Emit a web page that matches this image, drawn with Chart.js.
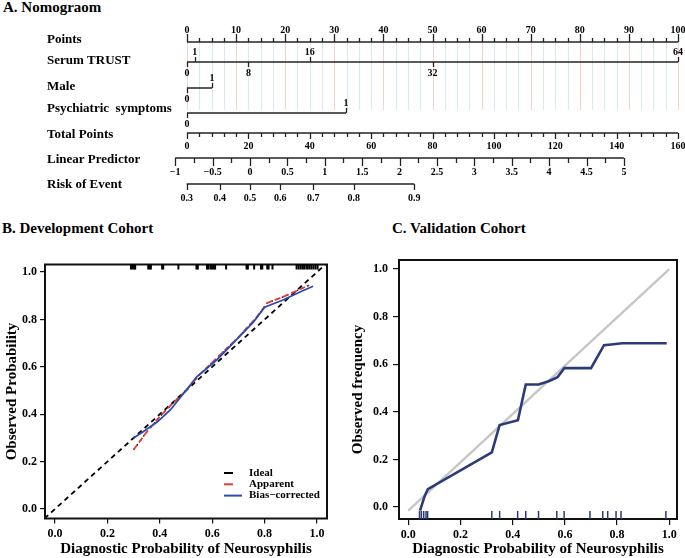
<!DOCTYPE html>
<html>
<head>
<meta charset="utf-8">
<script src="https://cdn.jsdelivr.net/npm/chart.js@4.4.1/dist/chart.umd.min.js"></script>
<style>
  body { margin: 0; background: #fff; width: 685px; height: 558px; position: relative; overflow: hidden; }
  canvas { position: absolute; }
  .ttl { position: absolute; font: bold 15px "Liberation Serif", serif; line-height: 15px; color: #000; white-space: nowrap; }
</style>
</head>
<body>
<div class="ttl" style="left:3px; top:0px;">A. Nomograom</div>
<div class="ttl" style="left:2px; top:221px;">B. Development Cohort</div>
<div class="ttl" style="left:392px; top:221px;">C. Validation Cohort</div>
<canvas id="nomo" width="685" height="210" style="left:0; top:0;"></canvas>
<canvas id="dev" width="340" height="318" style="left:0; top:240px;"></canvas>
<canvas id="val" width="345" height="318" style="left:340px; top:240px;"></canvas>
<script>
const SERIF = '"Liberation Serif", "Times New Roman", serif';
Chart.defaults.font.family = SERIF;
Chart.defaults.color = '#000';

// ---------- A. nomogram scales ----------
const pointsTicks = [0, 10, 20, 30, 40, 50, 60, 70, 80, 90, 100];
const trustValues = [0, 1, 8, 16, 32, 64];
const trustPoints = [0, 1.6, 12.5, 25, 50, 100];
const maleLevels = ['0', '1'];
const malePoints = [0, 5.1];
const psychLevels = ['0', '1'];
const psychPoints = [0, 32.4];
const totalTicks = [0, 20, 40, 60, 80, 100, 120, 140, 160];
const lpTicks = [-1, -0.5, 0, 0.5, 1, 1.5, 2, 2.5, 3, 3.5, 4, 4.5, 5];
const riskTicks = [0.3, 0.4, 0.5, 0.6, 0.7, 0.8, 0.9];
const lpZero = 12.83;   // points where linear predictor = 0
const lpSlope = 15.23;  // points per unit of linear predictor

// ---------- B. development cohort ----------
const devTicks = [0, 0.2, 0.4, 0.6, 0.8, 1.0];
const idealX = [-0.04, 1.04];
const apparentX = [0.30, 0.35, 0.40, 0.45, 0.50, 0.55, 0.62, 0.70, 0.77, 0.81, 0.87, 0.93, 0.97];
const apparentY = [0.25, 0.325, 0.39, 0.447, 0.50, 0.565, 0.64, 0.725, 0.81, 0.87, 0.895, 0.925, 0.945];
const biasX = [0.30, 0.335, 0.39, 0.44, 0.50, 0.54, 0.617, 0.68, 0.757, 0.80, 0.87, 0.935, 0.985];
const biasY = [0.30, 0.325, 0.367, 0.418, 0.50, 0.557, 0.629, 0.70, 0.789, 0.852, 0.882, 0.916, 0.94];
const devRug = [0.290, 0.296, 0.302, 0.306, 0.356, 0.362, 0.366, 0.409, 0.413, 0.471, 0.540, 0.545,
  0.580, 0.586, 0.594, 0.600, 0.606, 0.611, 0.653, 0.731, 0.736, 0.760, 0.786, 0.791, 0.810, 0.815,
  0.830, 0.922, 0.930, 0.938, 0.946, 0.953, 0.962, 0.970, 0.978, 0.986, 0.994, 1.002];

// ---------- C. validation cohort ----------
const valTicks = [0, 0.2, 0.4, 0.6, 0.8, 1.0];
const valIdealX = [0, 1];
const valIdealY = [-0.015, 1.0];
const valX = [0.045, 0.055, 0.064, 0.075, 0.32, 0.35, 0.42, 0.45, 0.50, 0.54, 0.572, 0.598, 0.70, 0.75, 0.777, 0.82, 0.99];
const valY = [-0.015, 0.02, 0.05, 0.075, 0.23, 0.345, 0.365, 0.515, 0.515, 0.53, 0.546, 0.584, 0.584, 0.68, 0.683, 0.688, 0.688];
const valRug = [0.043, 0.050, 0.059, 0.068, 0.074, 0.320, 0.350, 0.419, 0.450, 0.499, 0.569, 0.597,
  0.696, 0.745, 0.764, 0.796, 0.815, 0.987];

const pairs = (xs, ys) => xs.map((v, i) => ({ x: v, y: ys[i] }));
const fmt = v => (v < 0 ? '\u2212' : '') + Math.abs(v);

// ================= A. Nomogram =================
const rowY = { points: 42, trust: 62, male: 88, psych: 113, total: 133, lp: 158, risk: 184 };
const gridBottom = 110;
const toPts = {
  total: t => t * 100 / 160,
  lp: v => lpZero + lpSlope * v,
  risk: r => lpZero + lpSlope * Math.log(r / (1 - r))
};
const rowLabels = [
  ['Points', 43], ['Serum TRUST', 64], ['Male', 90], ['Psychiatric  symptoms', 112],
  ['Total Points', 138], ['Linear Predictor', 163], ['Risk of Event', 188]
];

const seg = (x0, x1, yy) => ({
  data: [{ x: x0, y: yy }, { x: x1, y: yy }],
  showLine: true, borderColor: '#222', borderWidth: 1.5, pointRadius: 0
});

const nomoPlugin = {
  id: 'nomo',
  beforeDatasetsDraw(chart) {
    const { ctx, scales: { x, y } } = chart;
    ctx.save();
    ctx.lineWidth = 1;
    for (let p = 0; p <= 100; p += 2.5) {
      const px = Math.round(x.getPixelForValue(p)) + 0.5;
      ctx.strokeStyle = p % 10 === 0 ? '#f6d2ca' : '#d6ece8';
      ctx.beginPath();
      ctx.moveTo(px, y.getPixelForValue(rowY.points));
      ctx.lineTo(px, y.getPixelForValue(gridBottom));
      ctx.stroke();
    }
    ctx.restore();
  },
  afterDatasetsDraw(chart) {
    const { ctx, scales: { x, y } } = chart;
    ctx.save();
    ctx.strokeStyle = '#222';
    ctx.fillStyle = '#000';
    ctx.lineWidth = 1.3;
    const tick = (p, row, len) => {
      const px = Math.round(x.getPixelForValue(p)) + 0.5;
      const py = y.getPixelForValue(row);
      ctx.beginPath(); ctx.moveTo(px, py); ctx.lineTo(px, py + len); ctx.stroke();
    };
    const label = (t, p, row, dy) => {
      ctx.fillText(t, x.getPixelForValue(p), y.getPixelForValue(row) + dy);
    };
    ctx.font = 'bold 10px ' + SERIF;
    ctx.textAlign = 'center';
    ctx.textBaseline = 'middle';

    // Points
    for (let p = 0; p <= 100; p += 2.5) tick(p, rowY.points, p % 10 === 0 ? -8 : -4);
    pointsTicks.forEach(p => label(String(p), p, rowY.points, -12));

    // Serum TRUST: labels alternate above / below
    trustValues.forEach((v, i) => {
      const up = i % 2 === 1;
      tick(trustPoints[i], rowY.trust, up ? -5 : 5);
      label(String(v), trustPoints[i], rowY.trust, up ? -10 : 11);
    });

    // Male, Psychiatric symptoms
    [[maleLevels, malePoints, rowY.male], [psychLevels, psychPoints, rowY.psych]].forEach(([lv, pt, r]) => {
      tick(pt[0], r, 5); label(lv[0], pt[0], r, 11);
      tick(pt[1], r, -5); label(lv[1], pt[1], r, -10);
    });

    // Total points
    for (let t = 0; t <= 160; t += 4) tick(toPts.total(t), rowY.total, t % 20 === 0 ? 6 : 4);
    totalTicks.forEach(t => label(String(t), toPts.total(t), rowY.total, 13));

    // Linear predictor
    for (let v = -1; v <= 5.001; v += 0.25) {
      const major = Math.abs(v * 2 - Math.round(v * 2)) < 1e-6;
      tick(toPts.lp(v), rowY.lp, major ? 8 : 5);
    }
    lpTicks.forEach(v => label(fmt(v), toPts.lp(v), rowY.lp, 14));

    // Risk of event
    riskTicks.forEach(r => { tick(toPts.risk(r), rowY.risk, 6); label(r.toFixed(1), toPts.risk(r), rowY.risk, 14); });

    // row names
    ctx.font = 'bold 13px ' + SERIF;
    ctx.textAlign = 'left';
    ctx.textBaseline = 'alphabetic';
    rowLabels.forEach(([t, yy]) => ctx.fillText(t, 47, yy));
    ctx.restore();
  }
};

new Chart(document.getElementById('nomo'), {
  type: 'scatter',
  data: {
    datasets: [
      seg(0, 100, rowY.points),
      seg(trustPoints[0], trustPoints[trustPoints.length - 1], rowY.trust),
      seg(malePoints[0], malePoints[1], rowY.male),
      seg(psychPoints[0], psychPoints[1], rowY.psych),
      seg(toPts.total(totalTicks[0]), toPts.total(totalTicks[totalTicks.length - 1]), rowY.total),
      seg(toPts.lp(lpTicks[0]), toPts.lp(lpTicks[lpTicks.length - 1]), rowY.lp),
      seg(toPts.risk(riskTicks[0]), toPts.risk(riskTicks[riskTicks.length - 1]), rowY.risk)
    ]
  },
  options: {
    responsive: false,
    animation: false,
    layout: { padding: { left: 162.45, right: 7, top: 0, bottom: 0 } },
    plugins: { legend: { display: false }, tooltip: { enabled: false } },
    scales: {
      x: { type: 'linear', min: -5, max: 100, display: false },
      y: { type: 'linear', min: 0, max: 210, reverse: true, display: false }
    }
  },
  plugins: [nomoPlugin]
});

// ================= shared calibration helpers =================
const tickFont = { family: SERIF, size: 12, weight: 'bold' };
const titleFont = { family: SERIF, size: 15, weight: 'bold' };

const framePlugin = {
  id: 'frame',
  afterDatasetsDraw(chart) {
    const { ctx, chartArea: a } = chart;
    ctx.save();
    ctx.strokeStyle = '#111';
    ctx.lineWidth = 2;
    ctx.strokeRect(a.left, a.top, a.right - a.left, a.bottom - a.top);
    ctx.restore();
  }
};

function axis(min, max, ticks, title, fitKey, fitVal, tickLen, pad, titlePad) {
  return {
    type: 'linear', min, max,
    afterFit(s) { s[fitKey] = fitVal; },
    afterBuildTicks(s) { s.ticks = ticks.map(v => ({ value: v })); },
    ticks: { callback: v => v.toFixed(1), font: tickFont, color: '#000', padding: pad, autoSkip: false, maxRotation: 0 },
    grid: { drawOnChartArea: false, drawTicks: true, tickLength: tickLen, color: '#111', lineWidth: 1.2 },
    border: { display: false },
    title: { display: true, text: title, font: titleFont, color: '#000', padding: titlePad }
  };
}

// ================= B. Development cohort =================
const devPlugin = {
  id: 'devExtras',
  afterDatasetsDraw(chart) {
    const { ctx, chartArea: a, scales: { x } } = chart;
    ctx.save();
    ctx.fillStyle = '#000';
    devRug.forEach(v => {
      const px = x.getPixelForValue(v);
      ctx.fillRect(px - 1, a.top, 2, 5);
    });
    // legend
    const items = [['Ideal', '#000', 9], ['Apparent', '#e8392f', 9], ['Bias\u2212corrected', '#2a4db3', 18]];
    ctx.font = 'bold 11px ' + SERIF;
    ctx.textBaseline = 'middle';
    items.forEach(([t, c, w], i) => {
      const yy = 233 + i * 11.3;
      ctx.strokeStyle = c;
      ctx.lineWidth = 2;
      ctx.beginPath(); ctx.moveTo(224, yy); ctx.lineTo(224 + w, yy); ctx.stroke();
      ctx.fillStyle = '#000';
      ctx.fillText(t, 249, yy);
    });
    ctx.restore();
  }
};

new Chart(document.getElementById('dev'), {
  type: 'scatter',
  data: {
    datasets: [
      { label: 'Bias-corrected', data: pairs(biasX, biasY), showLine: true, borderColor: '#2a4db3', borderWidth: 1.8, pointRadius: 0, order: 0 },
      { label: 'Apparent', data: pairs(apparentX, apparentY), showLine: true, borderColor: '#e8392f', borderDash: [6, 3], borderWidth: 1.8, pointRadius: 0, order: 1 },
      { label: 'Apparent dots', data: pairs(apparentX, apparentY), showLine: true, borderColor: '#000', borderDash: [1.5, 4], borderWidth: 1.4, pointRadius: 0, order: 2 },
      { label: 'Ideal', data: pairs(idealX, idealX), showLine: true, borderColor: '#000', borderDash: [5, 4], borderWidth: 1.8, pointRadius: 0, order: 3 }
    ]
  },
  options: {
    responsive: false,
    animation: false,
    layout: { padding: { top: 24.5, right: 13, left: 0, bottom: 0 } },
    plugins: { legend: { display: false }, tooltip: { enabled: false } },
    scales: {
      x: axis(-0.038, 1.038, devTicks, 'Diagnostic Probability of Neurosyphilis', 'height', 39.5, 5, 3, { top: 0, bottom: 0 }),
      y: axis(-0.04, 1.032, devTicks, 'Observed Probability', 'width', 45, 5, 3, { top: 3, bottom: 0 })
    }
  },
  plugins: [framePlugin, devPlugin]
});

// ================= C. Validation cohort =================
const valPlugin = {
  id: 'valExtras',
  afterDatasetsDraw(chart) {
    const { ctx, chartArea: a, scales: { x } } = chart;
    ctx.save();
    ctx.strokeStyle = '#2b3a78';
    ctx.lineWidth = 1.5;
    valRug.forEach(v => {
      const px = x.getPixelForValue(v);
      ctx.beginPath(); ctx.moveTo(px, a.bottom); ctx.lineTo(px, a.bottom - 8); ctx.stroke();
    });
    ctx.restore();
  }
};

new Chart(document.getElementById('val'), {
  type: 'scatter',
  data: {
    datasets: [
      { label: 'Calibration', data: pairs(valX, valY), showLine: true, borderColor: '#2b3a78', borderWidth: 2.6, pointRadius: 0, order: 0 },
      { label: 'Ideal', data: pairs(valIdealX, valIdealY), showLine: true, borderColor: '#c6c6c6', borderWidth: 2.4, pointRadius: 0, order: 1 }
    ]
  },
  options: {
    responsive: false,
    animation: false,
    layout: { padding: { top: 20, right: 8, left: 0, bottom: 0 } },
    plugins: { legend: { display: false }, tooltip: { enabled: false } },
    scales: {
      x: axis(-0.0356, 1.0295, valTicks, 'Diagnostic Probability of Neurosyphilis', 'height', 39, 6, 3, { top: 0, bottom: 0 }),
      y: axis(-0.05, 1.038, valTicks, 'Observed frequency', 'width', 59, 6, 5, { top: 9, bottom: 0 })
    }
  },
  plugins: [framePlugin, valPlugin]
});
</script>
</body>
</html>
